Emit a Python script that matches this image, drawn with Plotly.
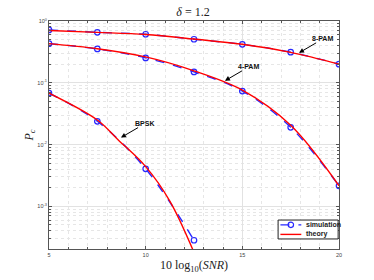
import plotly.graph_objects as go
import math

snr_db = [5, 7.5, 10, 12.5, 15, 17.5, 20]

sim_8pam = [0.716, 0.656, 0.61, 0.507, 0.42, 0.313, 0.20]
sim_4pam = [0.43, 0.353, 0.253, 0.150, 0.0735, 0.019, 0.00215]
sim_bpsk_x = [5, 7.5, 10, 12.5]
sim_bpsk = [0.068, 0.0238, 0.00405, 0.000283]

th_8pam = [0.70, 0.655, 0.605, 0.51, 0.42, 0.31, 0.20]
th_4pam = [0.43, 0.356, 0.262, 0.156, 0.076, 0.0205, 0.00215]
th_bpsk_x = [5, 7.5, 8.57, 10, 11.25, 12.5]
th_bpsk = [0.068, 0.025, 0.012, 0.0044, 0.00122, 0.00018]

labels = ["8-PAM", "4-PAM", "BPSK"]
label_x = [17.93, 14.10, 8.72]
label_y = [0.305, 0.1077, 0.01297]

legend_names = ["simulation", "theory"]

blue = "rgb(40,40,255)"
red = "rgb(255,0,0)"

fig = go.Figure()

def sim_trace(x, y):
    return go.Scatter(x=x, y=y, mode="lines+markers", name=legend_names[0],
                      line=dict(color=blue, width=1.4, dash="dash", shape="spline"),
                      marker=dict(symbol="circle-open", size=5.5, color=blue, line=dict(width=1.2)),
                      showlegend=False)

def th_trace(x, y):
    return go.Scatter(x=x, y=y, mode="lines", name=legend_names[1],
                      line=dict(color=red, width=1.4, shape="spline"),
                      showlegend=False)

fig.add_trace(sim_trace(snr_db, sim_8pam))
fig.add_trace(sim_trace(snr_db, sim_4pam))
fig.add_trace(sim_trace(sim_bpsk_x, sim_bpsk))
fig.add_trace(th_trace(snr_db, th_8pam))
fig.add_trace(th_trace(snr_db, th_4pam))
fig.add_trace(th_trace(th_bpsk_x, th_bpsk))

for t, x, y in zip(labels, label_x, label_y):
    fig.add_annotation(x=x, y=math.log10(y), xref="x", yref="y", text="<b>" + t + "</b>",
                       showarrow=True, ax=24, ay=-14, arrowhead=2, arrowsize=1,
                       arrowwidth=1, arrowcolor="black", standoff=0, borderpad=0,
                       font=dict(family="Arial, Liberation Sans", size=7, color="#111"))

# manual compact legend (box + samples + labels), in paper coordinates
lx0, lx1, ly0, ly1 = 0.79, 0.997, 0.044, 0.127
row_y = [0.106, 0.064]
fig.add_shape(type="rect", xref="paper", yref="paper", x0=lx0, x1=lx1, y0=ly0, y1=ly1,
              line=dict(color="#222", width=1), fillcolor="white", layer="above")
fig.add_shape(type="line", xref="paper", yref="paper", x0=lx0 + 0.008, x1=lx0 + 0.08,
              y0=row_y[0], y1=row_y[0], line=dict(color=blue, width=1.4, dash="dash"), layer="above")
fig.add_shape(type="circle", xref="paper", yref="paper", xsizemode="pixel", ysizemode="pixel",
              xanchor=lx0 + 0.044, yanchor=row_y[0], x0=-2.7, x1=2.7, y0=-2.7, y1=2.7,
              line=dict(color=blue, width=1.2), layer="above")
fig.add_shape(type="line", xref="paper", yref="paper", x0=lx0 + 0.008, x1=lx0 + 0.08,
              y0=row_y[1], y1=row_y[1], line=dict(color=red, width=1.4), layer="above")
for name, ry in zip(legend_names, row_y):
    fig.add_annotation(x=lx0 + 0.088, y=ry, xref="paper", yref="paper", text="<b>" + name + "</b>",
                       showarrow=False, xanchor="left", yanchor="middle",
                       font=dict(family="Arial, Liberation Sans", size=7, color="#222"))

tick_font = dict(family="Arial, Liberation Sans", size=5.5, color="#444")
axis_common = dict(showline=True, linecolor="#555", linewidth=1, mirror="ticks",
                   ticks="inside", ticklen=3, tickcolor="#555",
                   showgrid=True, gridcolor="#e2e2e2", gridwidth=1,
                   zeroline=False, tickfont=tick_font, automargin=False)

fig.update_xaxes(range=[5, 20], tickvals=[5, 10, 15, 20],
                 minor=dict(dtick=1, showgrid=True, griddash="dot", gridcolor="#e6e6e6",
                            ticks="inside", ticklen=2, tickcolor="#555"),
                 title=dict(text="10 log<sub>10</sub>(<i>SNR</i>)", standoff=4,
                            font=dict(family="Liberation Serif, DejaVu Serif", size=12, color="#222")),
                 **axis_common)
fig.update_yaxes(type="log", range=[-3.69, 0],
                 tickvals=[1e-3, 1e-2, 1e-1, 1],
                 ticktext=["10<sup>-3</sup>", "10<sup>-2</sup>", "10<sup>-1</sup>", "10<sup>0</sup>"],
                 minor=dict(tickvals=[k * 10 ** e for e in [-4, -3, -2, -1] for k in range(2, 10)],
                            showgrid=True, griddash="dot", gridcolor="#e6e6e6",
                            ticks="inside", ticklen=2, tickcolor="#555"),
                 title=dict(text="<i>P<sub>c</sub></i>", standoff=1,
                            font=dict(family="Liberation Serif, DejaVu Serif", size=12, color="#222")),
                 **axis_common)

fig.update_layout(
    width=374, height=280,
    margin=dict(l=49, r=35, t=21, b=31),
    paper_bgcolor="white", plot_bgcolor="white",
    title=dict(text="<i>δ</i> = 1.2", x=0.516, xanchor="center", y=0.957, yanchor="middle",
               font=dict(family="Liberation Serif, DejaVu Serif", size=12, color="#222")),
    showlegend=False,
)

fig.write_html("out.html", config={"displayModeBar": False},
               post_script="document.body.style.margin='0';")
